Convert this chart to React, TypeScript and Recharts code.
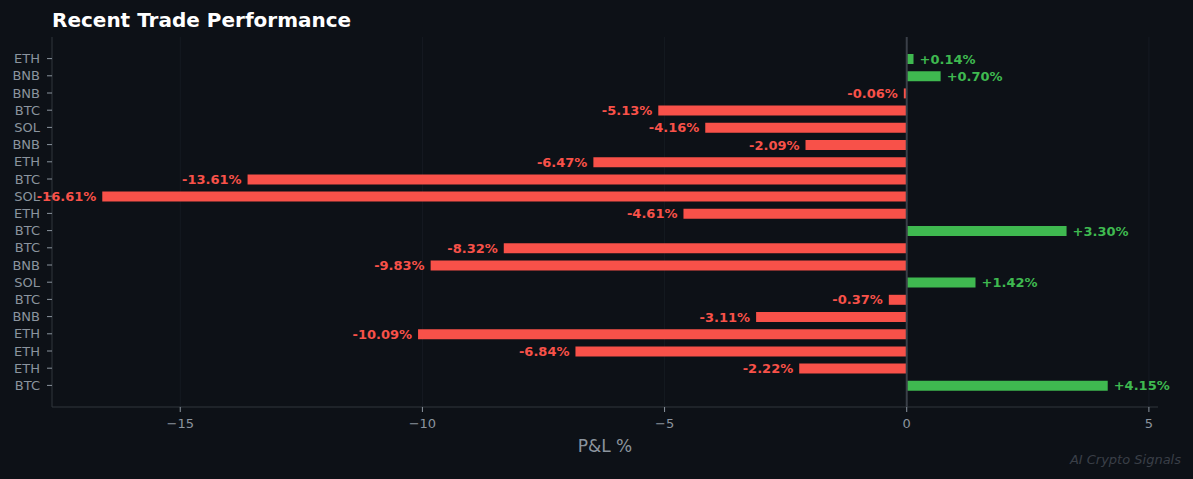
import { BarChart, Bar, XAxis, YAxis, CartesianGrid, ReferenceLine, Cell, LabelList } from "recharts"

const symbols = ["ETH", "BNB", "BNB", "BTC", "SOL", "BNB", "ETH", "BTC", "SOL", "ETH", "BTC", "BTC", "BNB", "SOL", "BTC", "BNB", "ETH", "ETH", "ETH", "BTC"]
const pnl = [0.14, 0.7, -0.06, -5.13, -4.16, -2.09, -6.47, -13.61, -16.61, -4.61, 3.3, -8.32, -9.83, 1.42, -0.37, -3.11, -10.09, -6.84, -2.22, 4.15]
const xTicks = [-15, -10, -5, 0, 5]

const BG = "#0d1117"
const GRID = "#30363d"
const MUTED = "#8b949e"
const RED = "#f85149"
const GREEN = "#3fb950"
const FONT = "'DejaVu Sans', sans-serif"

const data = symbols.map((s, i) => ({ id: i, symbol: s, pnl: pnl[i] }))

const fmtTick = (v: number) => (v < 0 ? `\u2212${Math.abs(v)}` : `${v}`)

function PnlLabel(props: any) {
  const { x, y, width, height, value } = props
  const left = Math.min(x, x + width)
  const right = Math.max(x, x + width)
  const pos = value >= 0
  return (
    <text
      x={pos ? right + 6 : left - 6}
      y={y + height / 2}
      dy="0.35em"
      textAnchor={pos ? "start" : "end"}
      fill={pos ? GREEN : RED}
      fontSize={13}
      fontWeight="bold"
      fontFamily={FONT}
    >
      {`${pos ? "+" : ""}${value.toFixed(2)}%`}
    </text>
  )
}

export default function App() {
  return (
    <div style={{ position: "absolute", left: 0, top: 0, width: 1193, height: 479, background: BG, fontFamily: FONT }}>
      <div style={{ position: "absolute", left: 52, top: 8, color: "#ffffff", fontSize: 20, fontWeight: "bold" }}>
        Recent Trade Performance
      </div>
      <BarChart
        width={1193}
        height={479}
        data={data}
        layout="vertical"
        margin={{ top: 37, right: 35, bottom: 32, left: 0 }}
        barCategoryGap={0}
      >
        <CartesianGrid horizontal={false} stroke="#151a21" strokeWidth={1} verticalValues={xTicks} />
        <XAxis
          type="number"
          domain={[-17.648, 5.188]}
          allowDataOverflow
          ticks={xTicks}
          tickFormatter={fmtTick}
          height={40}
          stroke={GRID}
          tickSize={5}
          tickMargin={7}
          tick={{ fill: MUTED, fontSize: 13, fontFamily: FONT }}
          tickLine={{ stroke: MUTED }}
        />
        <YAxis
          type="category"
          dataKey="id"
          tickFormatter={(v: number) => symbols[v]}
          width={52}
          stroke={GRID}
          tickSize={5}
          tickMargin={7}
          interval={0}
          padding={{ top: 13, bottom: 13 }}
          tick={{ fill: MUTED, fontSize: 13, fontFamily: FONT }}
          tickLine={{ stroke: MUTED }}
        />
        <ReferenceLine x={0} stroke="#3a3f48" strokeWidth={2} />
        <Bar dataKey="pnl" barSize={10} isAnimationActive={false}>
          {data.map((d) => (
            <Cell key={d.id} fill={d.pnl >= 0 ? GREEN : RED} />
          ))}
          <LabelList dataKey="pnl" content={PnlLabel} />
        </Bar>
      </BarChart>
      <div style={{ position: "absolute", left: 52, width: 1106, top: 436, textAlign: "center", color: MUTED, fontSize: 17 }}>
        P&amp;L %
      </div>
      <div style={{ position: "absolute", right: 12, top: 452, color: "#3a3f47", fontSize: 13, fontStyle: "italic" }}>
        AI Crypto Signals
      </div>
    </div>
  )
}
